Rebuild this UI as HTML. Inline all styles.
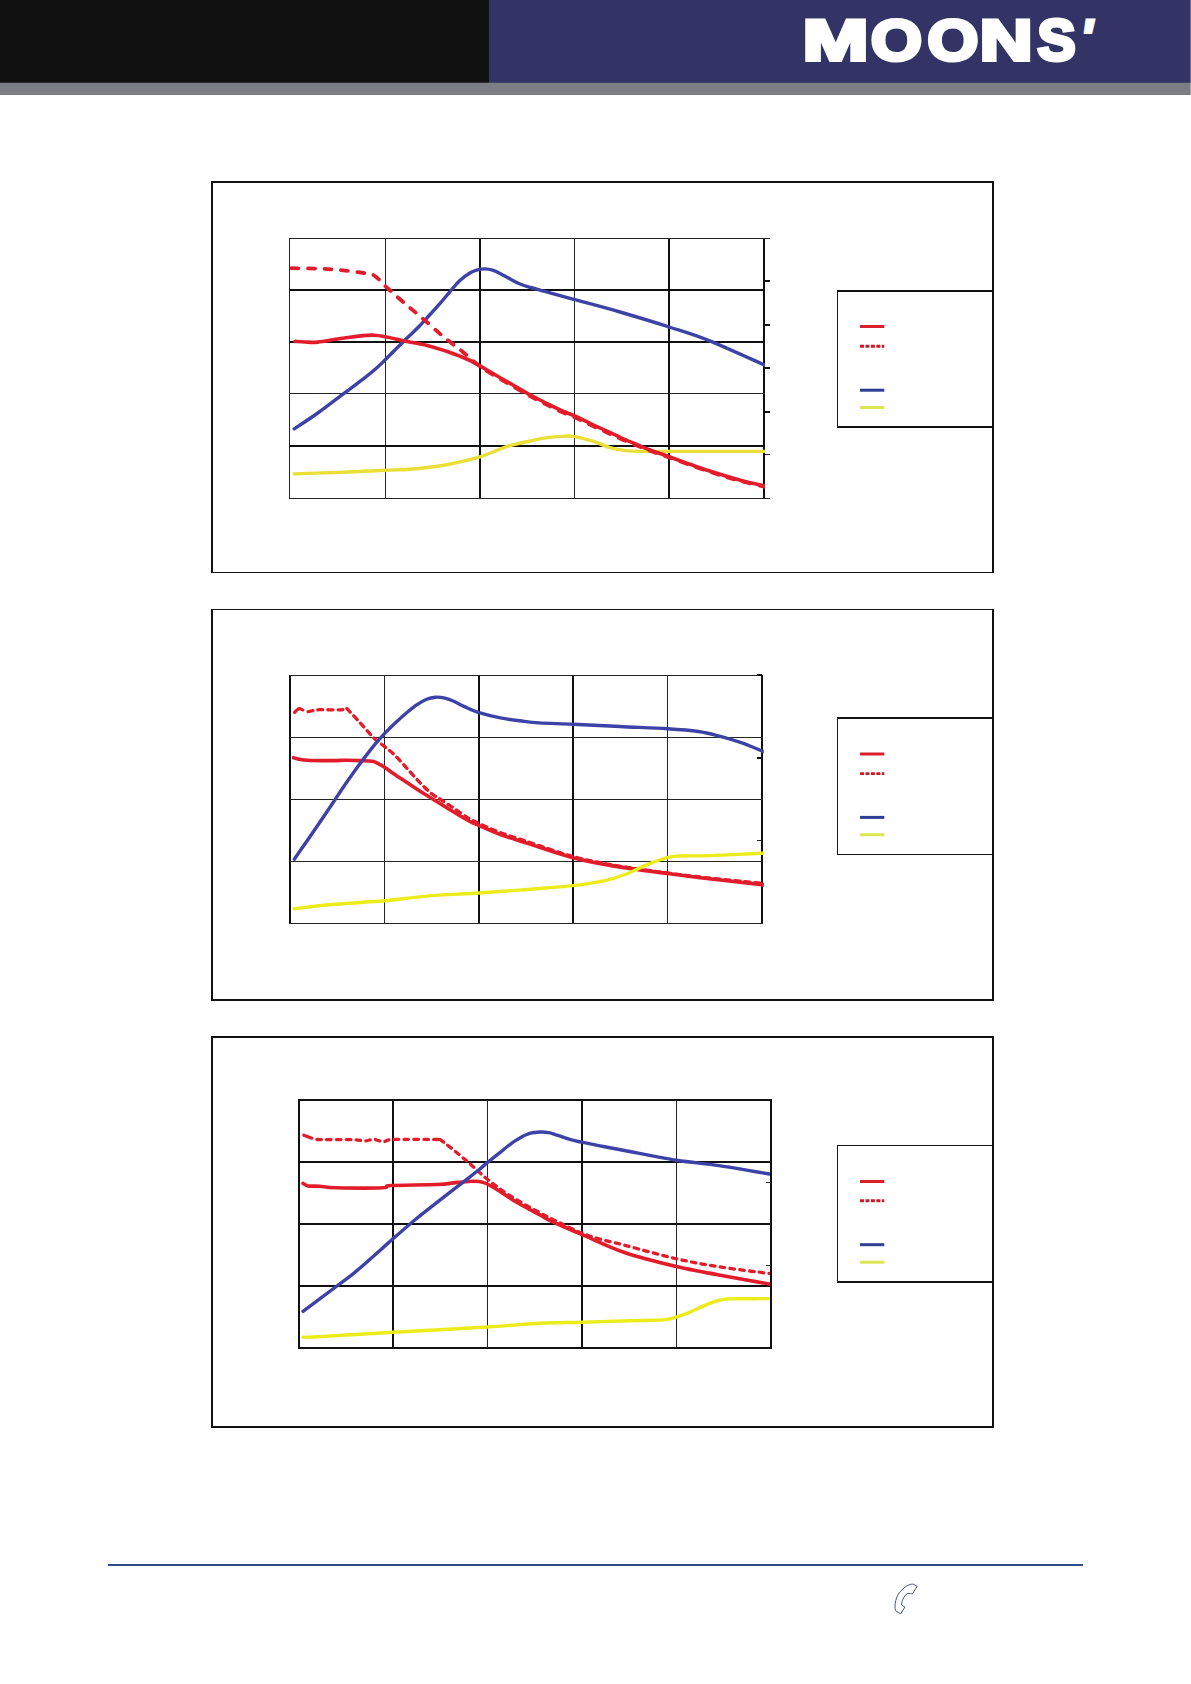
<!DOCTYPE html>
<html lang="en">
<head>
<meta charset="utf-8">
<title>MOONS'</title>
<style>
html,body{margin:0;padding:0;background:#fff;}
body{width:1191px;height:1684px;overflow:hidden;position:relative;font-family:"DejaVu Sans","Liberation Sans",sans-serif;}
svg{display:block;position:absolute;left:0;top:0;}
</style>
</head>
<body>
<svg width="1191" height="1684" viewBox="0 0 1191 1684">
<rect x="0" y="0" width="1191" height="1684" fill="#ffffff"/>
<!-- header -->
<rect x="0" y="82" width="1191" height="13" fill="#7b7e82"/>
<rect x="0" y="0" width="489" height="82.75" fill="#111111"/>
<rect x="489" y="0" width="702" height="82.75" fill="#333366"/>
<rect x="1190" y="0" width="1" height="82.75" fill="#6e6e97"/>
<rect x="1190" y="82.75" width="1" height="12.25" fill="#a6a8ab"/>
<text fill="#ffffff" stroke="#ffffff" stroke-width="4" stroke-linejoin="miter" vector-effect="non-scaling-stroke" text-rendering="geometricPrecision" font-family="'Liberation Sans',sans-serif" font-weight="bold" font-size="57"><tspan x="802.81" y="59.75" font-size="57.47" textLength="65.68" lengthAdjust="spacingAndGlyphs">M</tspan><tspan x="871.11" y="59.60" font-size="57.40" textLength="50.88" lengthAdjust="spacingAndGlyphs">O</tspan><tspan x="927.46" y="59.57" font-size="57.32" textLength="50.79" lengthAdjust="spacingAndGlyphs">O</tspan><tspan x="979.68" y="59.75" font-size="57.47" textLength="52.79" lengthAdjust="spacingAndGlyphs">N</tspan><tspan x="1037.43" y="59.63" font-size="57.96" textLength="38.04" lengthAdjust="spacingAndGlyphs">S</tspan><tspan x="1081.42" y="51.94" font-size="45.80" font-style="italic" textLength="10.48" lengthAdjust="spacingAndGlyphs">'</tspan></text>

<!-- charts -->
<g>
<rect x="211" y="181" width="783" height="2" fill="#121212"/>
<rect x="211" y="572" width="783" height="1" fill="#121212"/>
<rect x="211" y="181" width="2" height="392" fill="#121212"/>
<rect x="992" y="181" width="2" height="392" fill="#121212"/>
<rect x="837" y="290" width="156" height="2" fill="#121212"/>
<rect x="837" y="426" width="156" height="2" fill="#121212"/>
<rect x="837" y="290" width="1" height="138" fill="#1a1a1a"/>
<path d="M860 326.5H884.3" stroke="#d8212c" stroke-width="3" fill="none"/>
<path d="M860 346.2H884.3" stroke="#c81d2b" stroke-width="2.9" stroke-dasharray="4 1.45" fill="none"/>
<path d="M860 390.2H884.3" stroke="#2f3f94" stroke-width="3" fill="none"/>
<path d="M860 407.6H884.3" stroke="#dbe650" stroke-width="3" fill="none"/>
<rect x="289" y="238" width="1" height="261" fill="#242424"/>
<rect x="385" y="238" width="1" height="261" fill="#242424"/>
<rect x="479" y="238" width="2" height="261" fill="#101010"/>
<rect x="574" y="238" width="1" height="261" fill="#242424"/>
<rect x="668" y="238" width="2" height="261" fill="#101010"/>
<rect x="763" y="238" width="2" height="261" fill="#101010"/>
<rect x="289" y="238" width="476" height="1" fill="#242424"/>
<rect x="289" y="289" width="476" height="2" fill="#101010"/>
<rect x="289" y="341" width="476" height="2" fill="#101010"/>
<rect x="289" y="393" width="476" height="1" fill="#242424"/>
<rect x="289" y="445" width="476" height="2" fill="#101010"/>
<rect x="289" y="498" width="476" height="1" fill="#242424"/>
<rect x="765" y="238" width="5" height="1" fill="#242424"/>
<rect x="765" y="280" width="5" height="2" fill="#101010"/>
<rect x="765" y="324" width="5" height="2" fill="#101010"/>
<rect x="765" y="367" width="5" height="2" fill="#101010"/>
<rect x="765" y="411" width="5" height="2" fill="#101010"/>
<rect x="765" y="454" width="5" height="1" fill="#242424"/>
<rect x="765" y="498" width="5" height="1" fill="#242424"/>
<clipPath id="cp1"><rect x="289" y="237" width="475.9" height="261"/></clipPath>
<g clip-path="url(#cp1)">
<path d="M294.3 428.8 C298.2 426.2 309.7 418.8 317.8 413.0 C325.9 407.2 335.3 399.9 343.0 394.1 C350.7 388.3 358.4 382.8 364.0 378.4 C369.6 374.0 373.1 371.1 376.6 368.0 C380.1 364.9 380.1 364.8 385.0 360.0 C389.9 355.2 400.5 344.4 406.0 339.0 C411.5 333.6 414.0 331.6 418.0 327.5 C422.0 323.4 426.3 318.5 430.0 314.5 C433.7 310.5 436.7 307.3 440.1 303.4 C443.5 299.5 446.9 295.2 450.2 291.3 C453.5 287.4 456.8 283.3 460.2 280.2 C463.6 277.1 467.3 274.5 470.3 272.7 C473.3 270.9 475.9 270.2 478.4 269.6 C480.9 269.0 483.0 268.8 485.4 268.9 C487.8 269.0 490.0 269.4 492.5 270.2 C495.0 271.0 497.5 272.2 500.5 273.7 C503.5 275.2 507.2 277.4 510.6 279.2 C514.0 281.0 517.3 282.9 520.7 284.3 C524.1 285.7 527.4 286.5 530.8 287.5 C534.1 288.5 537.6 289.4 540.8 290.3 C544.0 291.2 544.4 291.2 550.0 292.8 C555.6 294.4 562.9 296.4 574.6 299.6 C586.3 302.8 604.2 307.4 620.0 312.0 C635.8 316.6 654.4 322.2 669.2 327.0 C684.0 331.8 692.5 334.0 709.0 340.6 C725.5 347.2 758.2 362.3 768.0 366.6" stroke="#3d42a7" stroke-width="3.4" fill="none" stroke-linecap="round" stroke-linejoin="round"/>
<path d="M294.3 473.9 C302.4 473.6 327.8 472.8 343.0 472.2 C358.2 471.6 373.4 470.9 385.6 470.3 C397.8 469.7 406.0 469.7 416.4 468.7 C426.8 467.7 437.3 466.5 448.0 464.5 C458.7 462.5 470.7 459.7 480.5 456.7 C490.3 453.7 498.4 449.2 506.7 446.6 C515.0 444.0 523.2 442.5 530.0 441.0 C536.8 439.5 541.3 438.4 547.3 437.6 C553.3 436.8 561.5 436.2 566.0 436.1 C570.5 436.0 570.0 435.8 574.6 436.7 C579.2 437.6 587.6 439.6 593.5 441.4 C599.4 443.2 604.8 446.2 610.0 447.7 C615.2 449.2 619.0 450.0 625.0 450.6 C631.0 451.2 633.5 451.3 646.0 451.4 C658.5 451.5 679.7 451.4 700.0 451.4 C720.3 451.4 756.7 451.4 768.0 451.4" stroke="#e9df36" stroke-width="3.4" fill="none" stroke-linecap="round" stroke-linejoin="round"/>
<path d="M291.5 268.2 C296.6 268.3 313.4 268.4 322.0 268.8 C330.6 269.2 336.0 269.6 343.0 270.3 C350.0 271.0 359.1 272.3 364.0 273.0 C368.9 273.7 369.9 273.4 372.4 274.5 C374.8 275.6 376.3 277.1 378.7 279.3 C381.1 281.5 382.4 283.5 387.0 287.7 C391.6 291.9 399.7 299.1 406.0 304.5 C412.3 309.9 418.5 314.9 424.8 320.3 C431.1 325.7 437.4 331.8 443.7 337.0 C450.0 342.2 456.5 346.7 462.6 351.7 C468.7 356.7 474.2 362.2 480.5 366.8 C486.8 371.4 494.4 375.6 500.2 379.0 C505.9 382.4 509.9 384.6 515.0 387.5 C520.0 390.4 525.5 393.6 530.5 396.3 C535.5 399.0 540.0 401.3 545.0 403.8 C550.0 406.3 555.6 409.2 560.7 411.5 C565.8 413.8 570.8 415.4 575.8 417.7 C580.8 420.0 585.9 422.7 590.9 425.1 C595.9 427.5 601.0 429.6 606.0 431.9 C611.0 434.2 616.1 436.8 621.1 439.0 C626.1 441.2 631.4 443.2 636.2 445.2 C641.0 447.2 644.5 448.8 650.0 450.8 C655.5 452.8 659.4 453.9 669.2 457.4 C679.0 460.9 697.1 467.7 709.0 471.6 C720.9 475.5 730.6 478.4 740.4 481.0 C750.2 483.6 763.4 486.3 768.0 487.4" stroke="#e21c2a" stroke-width="3.8" fill="none" stroke-linecap="round" stroke-linejoin="round" stroke-dasharray="7 9.5"/>
<path d="M295.0 341.4 C296.7 341.5 301.2 341.9 305.0 342.0 C308.8 342.1 311.5 342.7 317.8 342.1 C324.1 341.5 333.6 339.5 343.0 338.3 C352.4 337.1 364.0 334.7 374.5 335.2 C385.0 335.7 397.2 339.6 406.0 341.3 C414.8 343.0 420.0 343.7 427.0 345.4 C434.0 347.1 441.0 349.3 448.0 351.7 C455.0 354.1 462.7 357.1 469.0 360.0 C475.3 362.9 480.5 366.2 485.7 369.2 C490.9 372.1 495.3 374.9 500.2 377.7 C505.1 380.5 509.9 383.3 515.0 386.2 C520.0 389.1 525.5 392.3 530.5 395.0 C535.5 397.7 540.0 400.0 545.0 402.5 C550.0 405.0 555.6 407.9 560.7 410.2 C565.8 412.5 570.8 414.1 575.8 416.4 C580.8 418.7 585.9 421.4 590.9 423.8 C595.9 426.2 601.0 428.3 606.0 430.6 C611.0 432.9 616.1 435.5 621.1 437.8 C626.1 440.1 631.4 442.2 636.2 444.2 C641.0 446.2 644.5 447.9 650.0 450.0 C655.5 452.1 659.4 453.3 669.2 456.8 C679.0 460.3 697.1 466.9 709.0 470.8 C720.9 474.7 730.6 477.6 740.4 480.2 C750.2 482.8 763.4 485.5 768.0 486.6" stroke="#e21c2a" stroke-width="3.6" fill="none" stroke-linecap="round" stroke-linejoin="round"/>
</g>
</g>
<g>
<rect x="211" y="609" width="783" height="1" fill="#121212"/>
<rect x="211" y="999" width="783" height="2" fill="#121212"/>
<rect x="211" y="609" width="2" height="392" fill="#121212"/>
<rect x="992" y="609" width="2" height="392" fill="#121212"/>
<rect x="837" y="717" width="156" height="2" fill="#121212"/>
<rect x="837" y="854" width="156" height="1" fill="#121212"/>
<rect x="837" y="717" width="1" height="138" fill="#1a1a1a"/>
<path d="M860 754.0H884.3" stroke="#d8212c" stroke-width="3" fill="none"/>
<path d="M860 773.6H884.3" stroke="#c81d2b" stroke-width="2.9" stroke-dasharray="4 1.45" fill="none"/>
<path d="M860 817.4H884.3" stroke="#2f3f94" stroke-width="3" fill="none"/>
<path d="M860 834.7H884.3" stroke="#dbe650" stroke-width="3" fill="none"/>
<rect x="289" y="675" width="2" height="249" fill="#101010"/>
<rect x="384" y="675" width="1" height="249" fill="#242424"/>
<rect x="478" y="675" width="2" height="249" fill="#101010"/>
<rect x="572" y="675" width="2" height="249" fill="#101010"/>
<rect x="667" y="675" width="1" height="249" fill="#242424"/>
<rect x="761" y="675" width="2" height="249" fill="#101010"/>
<rect x="289" y="675" width="474" height="1" fill="#242424"/>
<rect x="289" y="737" width="474" height="1" fill="#242424"/>
<rect x="289" y="799" width="474" height="1" fill="#242424"/>
<rect x="289" y="861" width="474" height="1" fill="#242424"/>
<rect x="289" y="923" width="474" height="1" fill="#242424"/>
<rect x="757" y="674" width="5" height="2" fill="#101010"/>
<rect x="757" y="757" width="4" height="2" fill="#101010"/>
<rect x="757" y="840" width="4" height="1" fill="#242424"/>
<clipPath id="cp2"><rect x="289" y="674" width="474.8" height="249"/></clipPath>
<g clip-path="url(#cp2)">
<path d="M293.6 757.7 C294.7 758.0 297.3 759.1 300.0 759.6 C302.7 760.1 304.6 760.3 310.0 760.5 C315.4 760.7 326.4 760.6 332.5 760.6 C338.6 760.6 342.3 760.2 346.9 760.2 C351.5 760.2 356.1 760.4 360.3 760.6 C364.6 760.8 369.5 760.8 372.4 761.3 C375.3 761.8 375.8 762.3 377.8 763.3 C379.8 764.3 381.6 765.4 384.5 767.3 C387.4 769.2 391.4 772.1 395.2 774.7 C399.0 777.3 403.3 780.1 407.3 782.8 C411.3 785.5 415.4 788.2 419.4 790.8 C423.4 793.4 426.7 795.2 431.5 798.2 C436.3 801.2 441.8 804.7 448.0 808.5 C454.2 812.3 463.8 818.1 469.0 821.0 C474.2 823.9 474.0 823.3 479.2 825.6 C484.4 827.9 491.9 831.5 500.4 834.6 C508.9 837.7 517.9 840.2 530.0 844.1 C542.1 848.0 558.8 854.0 572.9 857.7 C587.0 861.4 598.7 863.5 614.5 866.1 C630.3 868.7 651.9 871.4 667.6 873.5 C683.4 875.6 693.3 876.9 709.0 878.7 C724.7 880.6 752.3 883.6 761.8 884.6 C771.3 885.6 765.3 884.9 766.0 885.0" stroke="#e21c2a" stroke-width="3.6" fill="none" stroke-linecap="round" stroke-linejoin="round"/>
<path d="M294.6 712.4 C295.0 712.0 296.2 710.6 297.0 710.0 C297.8 709.4 298.4 708.7 299.4 708.7 C300.4 708.7 302.2 709.8 302.8 710.0" stroke="#e21c2a" stroke-width="3.2" fill="none" stroke-linecap="round" stroke-linejoin="round"/>
<path d="M308.1 711.7 C308.9 711.5 311.1 710.9 313.0 710.6 C314.9 710.3 315.1 709.8 319.6 709.7 C324.1 709.6 335.6 710.0 340.2 709.8 C344.8 709.6 345.8 708.7 346.9 708.5" stroke="#e21c2a" stroke-width="3.3" fill="none" stroke-linecap="round" stroke-linejoin="round" stroke-dasharray="5 5"/>
<path d="M346.9 708.5 C349.1 710.9 355.8 718.1 360.3 723.0 C364.8 727.9 369.7 733.9 373.7 737.8 C377.7 741.7 380.9 743.5 384.5 746.5 C388.1 749.5 391.4 751.9 395.2 755.6 C399.0 759.3 403.3 764.3 407.3 768.7 C411.3 773.1 415.4 778.0 419.4 782.1 C423.4 786.2 427.9 790.6 431.5 793.5 C435.1 796.4 437.1 797.1 440.9 799.6 C444.7 802.1 449.5 805.4 454.2 808.5 C458.9 811.6 464.8 816.0 469.0 818.5 C473.2 821.0 474.0 821.2 479.2 823.6 C484.4 826.0 491.9 829.5 500.4 832.6 C508.9 835.8 517.9 838.5 530.0 842.5 C542.1 846.5 558.8 852.7 572.9 856.5 C587.0 860.3 598.7 862.5 614.5 865.3 C630.3 868.0 651.9 870.9 667.6 873.0 C683.4 875.1 693.3 876.3 709.0 878.0 C724.7 879.7 752.3 882.4 761.8 883.4 C771.3 884.4 765.3 883.7 766.0 883.8" stroke="#e21c2a" stroke-width="3.3" fill="none" stroke-linecap="round" stroke-linejoin="round" stroke-dasharray="5 5"/>
<path d="M294.3 859.2 C298.2 853.5 311.1 835.1 317.8 825.2 C324.6 815.3 330.0 807.2 334.8 800.0 C339.6 792.8 342.6 788.2 346.9 782.1 C351.1 776.0 355.8 769.3 360.3 763.3 C364.8 757.2 369.7 750.7 373.7 745.8 C377.7 740.9 380.9 737.5 384.5 733.7 C388.1 729.9 391.4 726.6 395.2 723.0 C399.0 719.4 403.7 715.2 407.3 712.2 C410.9 709.2 413.6 707.0 416.7 704.9 C419.8 702.8 423.0 700.8 426.1 699.5 C429.2 698.2 432.4 697.4 435.5 697.2 C438.6 697.0 441.8 697.4 444.9 698.1 C448.0 698.8 450.9 700.0 454.3 701.5 C457.7 703.0 460.8 705.0 465.1 706.9 C469.4 708.8 474.1 711.1 480.0 712.9 C485.9 714.7 493.7 716.6 500.4 717.9 C507.1 719.2 513.6 720.0 520.0 720.8 C526.4 721.6 530.2 722.3 539.0 722.9 C547.8 723.5 559.4 723.6 572.9 724.2 C586.4 724.8 604.2 725.7 620.0 726.5 C635.8 727.3 654.5 728.0 667.6 728.8 C680.7 729.6 689.8 730.3 698.4 731.5 C707.0 732.7 712.4 734.3 719.4 736.1 C726.4 737.9 733.3 740.0 740.4 742.4 C747.5 744.8 757.5 749.1 761.8 750.8 C766.1 752.5 765.3 752.3 766.0 752.6" stroke="#3d42a7" stroke-width="3.4" fill="none" stroke-linecap="round" stroke-linejoin="round"/>
<path d="M294.3 908.7 C300.7 908.0 317.5 905.8 332.5 904.5 C347.5 903.2 368.8 902.2 384.5 900.8 C400.2 899.4 411.2 897.4 427.0 896.1 C442.8 894.8 462.0 894.1 479.2 893.0 C496.4 891.9 514.4 890.4 530.0 889.2 C545.6 888.0 560.6 887.0 572.9 885.6 C585.2 884.2 595.3 882.6 604.0 880.8 C612.7 878.9 618.0 877.1 625.0 874.5 C632.0 871.9 639.0 867.9 646.0 865.1 C653.0 862.3 661.4 859.2 667.0 857.7 C672.6 856.2 672.5 856.4 679.5 856.0 C686.5 855.6 695.3 856.1 709.0 855.6 C722.7 855.1 752.3 853.7 761.8 853.3 C771.3 852.9 765.3 853.2 766.0 853.2" stroke="#ecec1a" stroke-width="3.4" fill="none" stroke-linecap="round" stroke-linejoin="round"/>
</g>
</g>
<g>
<rect x="211" y="1036" width="783" height="2" fill="#121212"/>
<rect x="211" y="1426" width="783" height="2" fill="#121212"/>
<rect x="211" y="1036" width="2" height="392" fill="#121212"/>
<rect x="992" y="1036" width="2" height="392" fill="#121212"/>
<rect x="837" y="1145" width="156" height="1" fill="#121212"/>
<rect x="837" y="1281" width="156" height="2" fill="#121212"/>
<rect x="837" y="1145" width="1" height="138" fill="#1a1a1a"/>
<path d="M860 1181.5H884.3" stroke="#d8212c" stroke-width="3" fill="none"/>
<path d="M860 1200.7H884.3" stroke="#c81d2b" stroke-width="2.9" stroke-dasharray="4 1.45" fill="none"/>
<path d="M860 1244.7H884.3" stroke="#2f3f94" stroke-width="3" fill="none"/>
<path d="M860 1262.2H884.3" stroke="#dbe650" stroke-width="3" fill="none"/>
<rect x="298" y="1099" width="2" height="250" fill="#101010"/>
<rect x="392" y="1099" width="2" height="250" fill="#101010"/>
<rect x="487" y="1099" width="1" height="250" fill="#242424"/>
<rect x="581" y="1099" width="2" height="250" fill="#101010"/>
<rect x="676" y="1099" width="1" height="250" fill="#242424"/>
<rect x="770" y="1099" width="2" height="250" fill="#101010"/>
<rect x="298" y="1099" width="474" height="2" fill="#101010"/>
<rect x="298" y="1161" width="474" height="2" fill="#101010"/>
<rect x="298" y="1223" width="474" height="2" fill="#101010"/>
<rect x="298" y="1285" width="474" height="2" fill="#101010"/>
<rect x="298" y="1347" width="474" height="2" fill="#101010"/>
<rect x="766" y="1182" width="4" height="1" fill="#242424"/>
<rect x="766" y="1265" width="4" height="1" fill="#242424"/>
<clipPath id="cp3"><rect x="298" y="1099" width="472.0" height="250"/></clipPath>
<g clip-path="url(#cp3)">
<path d="M303.0 1183.4 C303.8 1183.8 305.1 1185.4 307.8 1185.9 C310.5 1186.4 314.7 1186.0 319.4 1186.3 C324.1 1186.6 325.7 1187.5 336.2 1187.8 C346.7 1188.0 373.3 1188.2 382.4 1187.8 C391.5 1187.4 381.7 1186.0 390.8 1185.5 C399.9 1185.0 425.8 1185.0 437.0 1184.5 C448.2 1184.0 452.1 1182.9 458.0 1182.4 C463.9 1181.9 468.4 1181.3 472.6 1181.3 C476.8 1181.3 479.2 1181.2 483.1 1182.4 C487.0 1183.6 490.1 1185.4 495.7 1188.7 C501.3 1192.0 509.3 1197.9 516.7 1202.3 C524.1 1206.7 534.6 1212.0 540.0 1214.9 C545.4 1217.9 541.9 1216.7 548.9 1220.0 C555.9 1223.3 569.7 1229.3 582.3 1234.7 C594.9 1240.1 608.8 1247.2 624.5 1252.5 C640.2 1257.8 660.8 1262.8 676.5 1266.6 C692.2 1270.3 703.5 1272.1 719.0 1275.0 C734.5 1277.9 760.1 1282.4 769.3 1284.0 C778.5 1285.6 773.2 1284.7 774.0 1284.8" stroke="#e21c2a" stroke-width="3.6" fill="none" stroke-linecap="round" stroke-linejoin="round"/>
<path d="M303.8 1135.2 L312.0 1138.2" stroke="#e21c2a" stroke-width="3.2" fill="none" stroke-linecap="round" stroke-linejoin="round"/>
<path d="M316.9 1139.5 C319.1 1139.5 324.0 1139.6 330.0 1139.6 C336.0 1139.6 347.1 1139.5 353.0 1139.7 C358.9 1139.9 362.1 1140.9 365.6 1140.8 C369.1 1140.7 371.0 1139.1 374.0 1139.3 C377.0 1139.5 380.2 1141.8 383.4 1141.8 C386.5 1141.8 383.4 1139.9 392.9 1139.5 C402.3 1139.1 432.2 1139.5 440.1 1139.5" stroke="#e21c2a" stroke-width="3.3" fill="none" stroke-linecap="round" stroke-linejoin="round" stroke-dasharray="4.5 5.3"/>
<path d="M440.1 1139.5 C441.7 1140.7 444.8 1142.9 449.5 1146.7 C454.2 1150.5 462.1 1157.0 468.4 1162.4 C474.7 1167.8 480.3 1173.6 487.3 1179.2 C494.3 1184.8 501.6 1190.4 510.4 1196.0 C519.2 1201.6 531.7 1208.3 540.0 1212.8 C548.3 1217.3 551.9 1219.2 560.0 1223.0 C568.1 1226.8 578.0 1232.0 588.8 1235.7 C599.5 1239.4 609.9 1241.4 624.5 1245.2 C639.1 1249.0 660.8 1255.2 676.5 1258.8 C692.2 1262.4 703.5 1264.3 719.0 1266.8 C734.5 1269.2 760.1 1272.3 769.3 1273.5 C778.5 1274.7 773.2 1274.0 774.0 1274.1" stroke="#e21c2a" stroke-width="3.3" fill="none" stroke-linecap="round" stroke-linejoin="round" stroke-dasharray="4.5 5.3"/>
<path d="M303.0 1311.3 C308.9 1306.9 329.3 1291.8 338.3 1285.0 C347.3 1278.2 348.1 1278.1 357.2 1270.4 C366.3 1262.7 383.1 1247.5 392.9 1238.9 C402.7 1230.3 408.6 1225.1 416.0 1219.0 C423.4 1212.9 428.3 1209.2 437.0 1202.4 C445.7 1195.6 461.2 1183.7 468.4 1178.1 C475.6 1172.5 476.8 1171.5 480.0 1168.9 C483.2 1166.3 484.2 1165.2 487.6 1162.4 C491.0 1159.6 496.4 1155.3 500.2 1152.3 C504.0 1149.3 506.9 1146.7 510.2 1144.3 C513.5 1141.9 516.9 1139.5 520.3 1137.7 C523.7 1135.9 527.0 1134.2 530.4 1133.2 C533.8 1132.2 537.5 1132.1 540.5 1132.0 C543.5 1131.9 545.5 1132.1 548.5 1132.7 C551.5 1133.3 554.9 1134.5 558.6 1135.7 C562.3 1136.9 566.8 1138.6 570.7 1139.7 C574.6 1140.8 576.9 1141.2 581.8 1142.2 C586.7 1143.2 592.9 1144.4 600.0 1145.8 C607.1 1147.2 611.8 1148.1 624.5 1150.5 C637.2 1152.9 660.8 1157.8 676.5 1160.3 C692.2 1162.8 703.5 1163.3 719.0 1165.6 C734.5 1167.9 760.1 1172.5 769.3 1174.0 C778.5 1175.5 773.2 1174.8 774.0 1174.9" stroke="#3d42a7" stroke-width="3.4" fill="none" stroke-linecap="round" stroke-linejoin="round"/>
<path d="M303.0 1337.1 C305.4 1337.0 302.3 1337.5 317.3 1336.7 C332.3 1335.9 364.6 1333.9 392.9 1332.3 C421.2 1330.7 462.8 1328.5 487.3 1327.0 C511.8 1325.5 524.2 1324.0 540.0 1323.2 C555.8 1322.4 567.3 1322.6 582.3 1322.2 C597.3 1321.8 617.9 1321.1 630.0 1320.8 C642.1 1320.5 649.0 1320.4 655.0 1320.2 C661.0 1320.0 662.4 1320.1 666.0 1319.6 C669.6 1319.0 673.2 1318.0 676.8 1316.9 C680.4 1315.8 684.1 1314.5 687.8 1313.1 C691.4 1311.6 695.1 1309.8 698.7 1308.2 C702.3 1306.6 706.0 1304.7 709.6 1303.3 C713.2 1301.9 717.2 1300.7 720.5 1300.0 C723.8 1299.3 724.3 1299.1 729.2 1298.9 C734.1 1298.7 742.7 1298.8 750.0 1298.7 C757.3 1298.7 769.2 1298.6 773.0 1298.6" stroke="#ecec1a" stroke-width="3.4" fill="none" stroke-linecap="round" stroke-linejoin="round"/>
</g>
</g>
<!-- footer -->
<rect x="108" y="1564" width="975" height="2" fill="#2e4d88"/>
<path d="M917.1 1586.5 L913.7 1584.3 C913.2 1584.3 911.8 1584.0 910.4 1584.4 C909.0 1584.8 907.0 1585.7 905.3 1586.9 C903.6 1588.1 901.7 1589.9 900.3 1591.6 C898.9 1593.3 897.8 1595.0 896.9 1597.0 C896.0 1599.0 895.5 1601.7 895.2 1603.7 C894.9 1605.7 895.0 1607.5 895.1 1608.8 C895.2 1610.1 895.9 1610.9 896.1 1611.3 L900.7 1613.8 L904.9 1607.1 L901.6 1605 C901.7 1604.2 901.9 1601.9 902.4 1600.4 C902.9 1598.9 904.0 1597.0 904.9 1595.8 C905.8 1594.6 906.6 1593.8 907.9 1593.5 C909.2 1593.2 911.7 1593.7 912.5 1593.7 Z" fill="none" stroke="#25357a" stroke-width="0.85" stroke-linejoin="round"/>
</svg>
</body>
</html>
